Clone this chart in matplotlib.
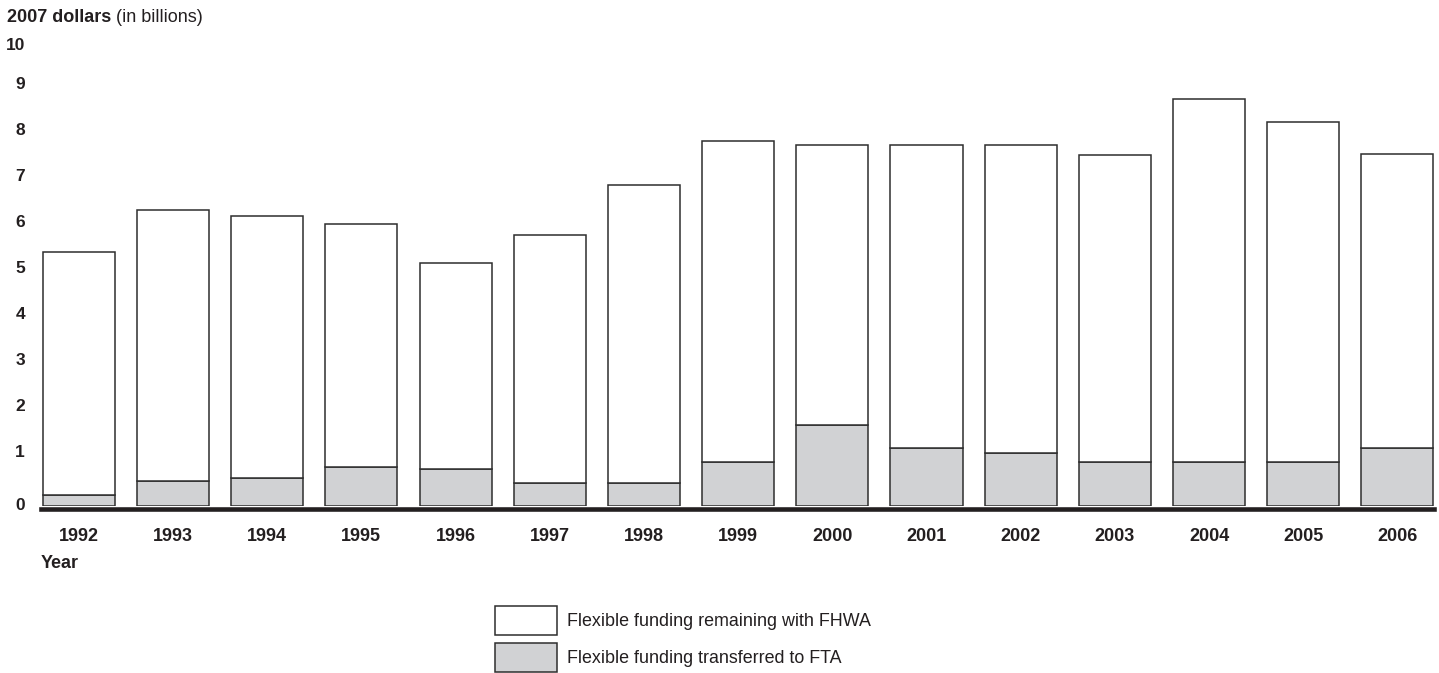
import matplotlib.pyplot as plt
import numpy as np

plt.rcParams['font.family'] = ['Liberation Sans', 'DejaVu Sans']

years = ['1992', '1993', '1994', '1995', '1996', '1997', '1998', '1999',
         '2000', '2001', '2002', '2003', '2004', '2005', '2006']
# billions of 2007 dollars
transferred_fta = [0.25, 0.55, 0.61, 0.84, 0.80, 0.51, 0.49, 0.96,
                   1.76, 1.26, 1.16, 0.95, 0.96, 0.96, 1.26]
remaining_fhwa = [5.28, 5.88, 5.69, 5.30, 4.49, 5.38, 6.49, 6.98,
                  6.09, 6.59, 6.69, 6.69, 7.88, 7.38, 6.39]
yticks = [0, 1, 2, 3, 4, 5, 6, 7, 8, 9, 10]

txt = '#231f20'
edge = '#2e2e2e'
gray = '#d1d2d4'

fig = plt.figure(figsize=(14.39, 6.73), dpi=100)
ax = fig.add_axes([41 / 1439, 167 / 673, (1433.5 - 41) / 1439, 460 / 673])

x = np.arange(len(years))
w = 0.765
b_fta = ax.bar(x, transferred_fta, w, color=gray, edgecolor=edge, linewidth=1.1)
b_fhwa = ax.bar(x, remaining_fhwa, w, bottom=transferred_fta, color='white',
                edgecolor=edge, linewidth=1.1)

ax.set_xlim(-0.401, 14.383)
ax.set_ylim(0, 10)
for s in ax.spines.values():
    s.set_visible(False)
ax.axhline(-0.06, color=txt, linewidth=3.3, clip_on=False, zorder=5)

ax.set_yticks(yticks)
ax.set_yticklabels([str(v) for v in yticks], fontsize=12.5, fontweight='bold', color=txt)
for t, v in zip(ax.get_yticklabels(), yticks):
    if 0 < v < 10:
        t.set_va('bottom')
    else:
        t.set_va('center')
ax.tick_params(axis='y', length=0, pad=11.5)

ax.set_xticks(x)
ax.set_xticklabels(years, fontsize=13, fontweight='bold', color=txt)
ax.tick_params(axis='x', length=0, pad=15.5)

fig.text(7 / 1439, 1 - 18 / 673, '2007 dollars', fontsize=13, fontweight='bold',
         color=txt, va='center', ha='left')
fig.text(116 / 1439, 1 - 18 / 673, '(in billions)', fontsize=13,
         color=txt, va='center', ha='left')
fig.text(41 / 1439, 1 - 563 / 673, 'Year', fontsize=13, fontweight='bold',
         color=txt, va='center', ha='left')

fig.legend([b_fhwa, b_fta],
           ['Flexible funding remaining with FHWA', 'Flexible funding transferred to FTA'],
           loc='upper left', bbox_to_anchor=(495 / 1439, 1 - 606 / 673),
           frameon=False, fontsize=12.9, handlelength=3.46, handleheight=2.12,
           labelspacing=0.45, handletextpad=0.56, borderpad=0, borderaxespad=0,
           labelcolor=txt)

fig.savefig('out.png', dpi=100)
